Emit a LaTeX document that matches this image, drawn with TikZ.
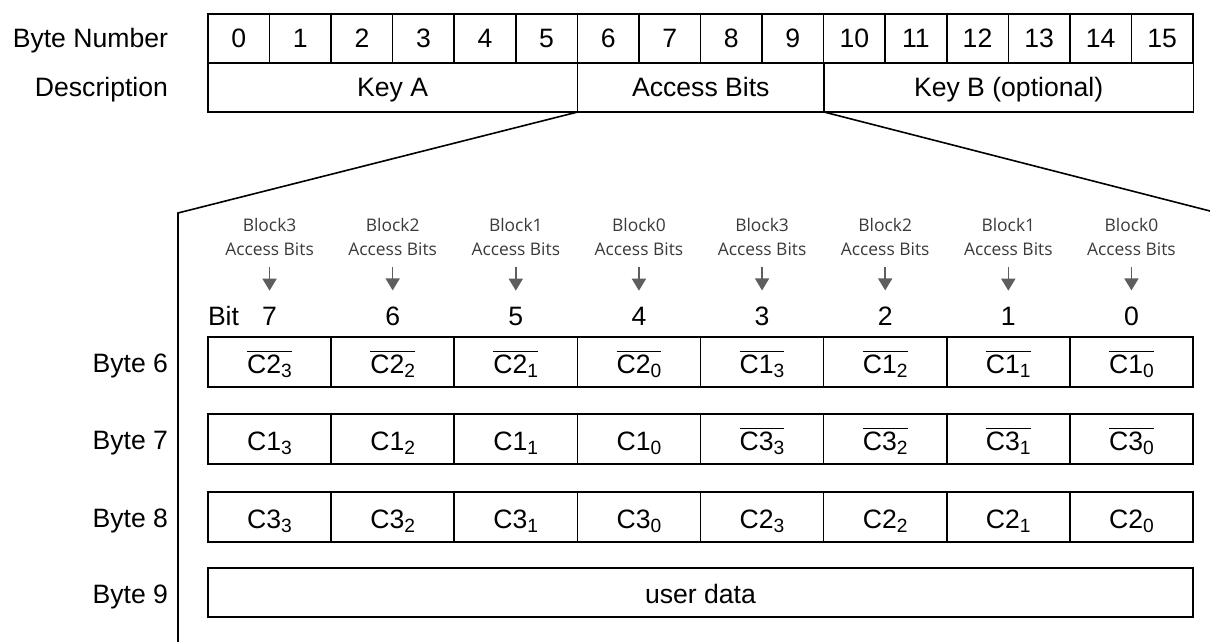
\documentclass[tikz,border=0pt]{standalone}
\usepackage{fontspec}
\setmainfont{Liberation Sans}
\newfontfamily\blockfont{Open Sans}
\usetikzlibrary{arrows.meta}
\definecolor{blockgray}{HTML}{3A3A3A}
\definecolor{arrowgray}{HTML}{5E5E5E}
\newcommand\sub[1]{\raisebox{-2.2pt}{\fontsize{9.6}{10}\selectfont #1}}
\newcommand\nb[1]{$\overline{\hbox{#1}}$}

\begin{document}
\begin{tikzpicture}[x=0.5pt, y=-0.5pt,
      every node/.style={font=\fontsize{13.3}{15}\selectfont, inner sep=0pt, outer sep=0pt},
      cell/.style={draw, line width=0.8pt, anchor=north west},
      topcell/.style={cell, minimum width=30.78pt, minimum height=24.5pt, text height=9.5pt, text depth=0pt},
      bitcell/.style={cell, minimum width=61.56pt, minimum height=25pt, text height=11pt, text depth=0pt},
      rowlabel/.style={anchor=base east},
      blocklabel/.style={font=\blockfont\fontsize{8.7}{12}\selectfont, text=blockgray, align=center, anchor=south},
      pointer/.style={-{Triangle[width=7pt,length=6pt]}, line width=0.8pt, draw=arrowgray, fill=arrowgray}]
    \useasboundingbox (0,0) rectangle (1210,642);

    % sector trailer bytes
    \node[rowlabel] (bytenum) at (168,48) {Byte Number};
    \node[rowlabel] (desc) at (168,97) {Description};
    \foreach \i in {0,...,15}
      \node[topcell] (b\i) at ({208+61.5625*\i},14) {\i};
    \node[topcell, minimum width=184.69pt] (keyA) at (208,63) {Key A};
    \node[topcell, minimum width=123.13pt] (acc) at (577.69,63) {Access Bits};
    \node[topcell, minimum width=184.69pt] (keyB) at (823.94,63) {Key B (optional)};

    % zoom lines
    \coordinate (lbend) at (178,213);
    \coordinate (lend) at (178,642);
    \coordinate (rend) at (1210,211);
    \draw[line width=0.8pt] (acc.south west) -- (lbend) -- (lend);
    \draw[line width=0.8pt] (acc.south east) -- (rend);

    % block headers and bit numbers
    \node[anchor=base west] (bitlbl) at (208,325) {Bit};
    \foreach \k/\blk in {0/3,1/2,2/1,3/0,4/3,5/2,6/1,7/0} {
      \pgfmathtruncatemacro\n{7-\k}
      \node[blocklabel] (hdr\k) at ({269.56+123.125*\k},256) {Block\blk\\Access Bits};
      \node[anchor=base] (bit\k) at ({269.56+123.125*\k},325) {\n};
      \draw[pointer, shorten <=5.5pt, shorten >=8pt] (hdr\k.south) -- (bit\k.north);
    }

    % access bytes
    \node[rowlabel] (lbl6) at (168,372) {Byte 6};
    \node[rowlabel] (lbl7) at (168,449) {Byte 7};
    \node[rowlabel] (lbl8) at (168,527) {Byte 8};
    \node[rowlabel] (lbl9) at (168,603) {Byte 9};
    \foreach \k in {0,...,3} {
      \pgfmathtruncatemacro\n{3-\k}
      \node[bitcell] (r6c\k) at ({208+123.125*\k},337) {\nb{C2\sub{\n}}};
      \node[bitcell] (r7c\k) at ({208+123.125*\k},414) {C1\sub{\n}};
      \node[bitcell] (r8c\k) at ({208+123.125*\k},492) {C3\sub{\n}};
    }
    \foreach \k in {4,...,7} {
      \pgfmathtruncatemacro\n{7-\k}
      \node[bitcell] (r6c\k) at ({208+123.125*\k},337) {\nb{C1\sub{\n}}};
      \node[bitcell] (r7c\k) at ({208+123.125*\k},414) {\nb{C3\sub{\n}}};
      \node[bitcell] (r8c\k) at ({208+123.125*\k},492) {C2\sub{\n}};
    }
    \node[bitcell, minimum width=492.5pt, minimum height=24.5pt] (user) at (208,568) {user data};
  \end{tikzpicture}
\end{document}
